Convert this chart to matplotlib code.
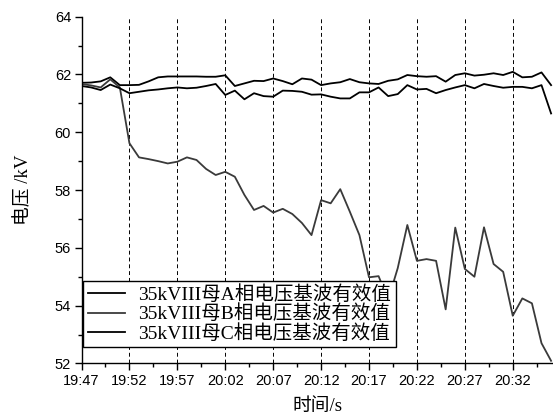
import numpy as np
import matplotlib
matplotlib.use('Agg')
import matplotlib.pyplot as plt
from matplotlib.ticker import MultipleLocator

# 35kV III bus, fundamental RMS voltage per phase, one sample per minute from 19:47
phase_a = [61.71, 61.72, 61.76, 61.90, 61.63, 61.63, 61.64, 61.76, 61.90, 61.93,
           61.93, 61.93, 61.93, 61.92, 61.92, 61.97, 61.60, 61.69, 61.78, 61.77,
           61.86, 61.77, 61.66, 61.86, 61.82, 61.63, 61.69, 61.73, 61.84, 61.73,
           61.69, 61.67, 61.78, 61.83, 61.98, 61.94, 61.92, 61.94, 61.75, 61.98,
           62.04, 61.96, 61.99, 62.04, 61.98, 62.09, 61.90, 61.92, 62.07, 61.63]
phase_b = [61.67, 61.62, 61.55, 61.83, 61.55, 59.62, 59.13, 59.07, 59.00, 58.92,
           58.98, 59.13, 59.04, 58.73, 58.52, 58.63, 58.46, 57.83, 57.31, 57.45,
           57.22, 57.35, 57.17, 56.86, 56.44, 57.65, 57.54, 58.03, 57.25, 56.44,
           54.98, 55.02, 54.20, 55.30, 56.79, 55.55, 55.61, 55.55, 53.87, 56.70,
           55.27, 55.00, 56.71, 55.44, 55.17, 53.65, 54.25, 54.08, 52.70, 52.09]
phase_c = [61.60, 61.55, 61.46, 61.65, 61.52, 61.35, 61.40, 61.45, 61.48, 61.52,
           61.55, 61.52, 61.54, 61.60, 61.67, 61.29, 61.44, 61.14, 61.35, 61.25,
           61.23, 61.44, 61.43, 61.40, 61.30, 61.31, 61.23, 61.17, 61.17, 61.38,
           61.38, 61.55, 61.25, 61.32, 61.63, 61.48, 61.50, 61.35, 61.46, 61.55,
           61.63, 61.52, 61.67, 61.60, 61.54, 61.57, 61.57, 61.52, 61.63, 60.65]

tick_labels = ['19:47', '19:52', '19:57', '20:02', '20:07', '20:12',
               '20:17', '20:22', '20:27', '20:32']
legend_labels = ['35kVIII母A相电压基波有效值',
                 '35kVIII母B相电压基波有效值',
                 '35kVIII母C相电压基波有效值']

minutes = np.arange(len(phase_b))
serif = ['Liberation Serif', 'Noto Sans CJK SC']

fig = plt.figure(figsize=(5.53, 4.16), dpi=100)
ax = fig.add_axes([0.1474, 0.1264, 0.8526, 0.8336])

ax.plot(minutes, phase_a, color='black', lw=1.3, label=legend_labels[0])
ax.plot(minutes, phase_b, color='#3a3a3a', lw=1.3, label=legend_labels[1])
ax.plot(minutes, phase_c, color='black', lw=1.3, label=legend_labels[2])

ax.set_xlim(0, 49.2)
ax.set_ylim(52, 64)
ax.set_xticks(np.arange(len(tick_labels)) * 5)
ax.set_xticklabels(tick_labels)
ax.xaxis.set_minor_locator(MultipleLocator(2.5))
ax.yaxis.set_major_locator(MultipleLocator(2))
ax.yaxis.set_minor_locator(MultipleLocator(1))

ax.spines['top'].set_visible(False)
ax.spines['right'].set_visible(False)
ax.spines['left'].set_linewidth(1.0)
ax.spines['bottom'].set_linewidth(1.0)
ax.tick_params(which='major', direction='out', length=5, width=1.0, pad=2.5,
               labelsize=10.5)
ax.tick_params(which='minor', direction='out', length=3, width=1.0)
for lab in ax.get_xticklabels() + ax.get_yticklabels():
    lab.set_family('Liberation Sans')

ax.grid(axis='x', which='major', color='black', lw=0.7, linestyle=(0, (4, 3)))

ax.set_xlabel('时间/s', family=serif, fontsize=13.5, labelpad=7)
ax.set_ylabel('电压 /kV', family=serif, fontsize=13.5, labelpad=16)

leg = ax.legend(loc='lower left', bbox_to_anchor=(0.004, 0.046), borderaxespad=0,
                prop={'family': serif, 'size': 14}, fancybox=False,
                framealpha=1, edgecolor='black', handlelength=1.9,
                handletextpad=0.65, labelspacing=0.02, borderpad=0.25)
leg.get_frame().set_linewidth(1.0)

fig.savefig('out.png', dpi=100)
